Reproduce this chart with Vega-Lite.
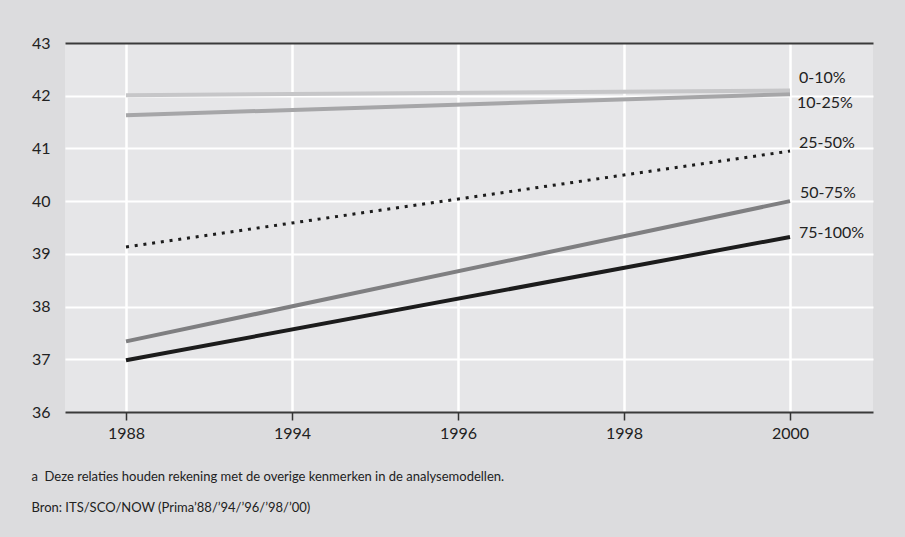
{
  "$schema": "https://vega.github.io/schema/vega-lite/v6.json",
  "width": 808,
  "height": 369,
  "autosize": {"type": "none"},
  "padding": {"left": 65, "top": 43, "right": 32, "bottom": 125},
  "background": "#dcdcde",
  "config": {
    "view": {"fill": "#e6e6e8", "stroke": null},
    "font": "Lato",
    "text": {"font": "Lato"}
  },
  "title": {
    "text": ["a\u00a0\u00a0Deze relaties houden rekening met de overige kenmerken in de analysemodellen.", "Bron: ITS/SCO/NOW (Prima’88/’94/’96/’98/’00)"],
    "orient": "bottom",
    "anchor": "start",
    "font": "Lato",
    "fontSize": 13,
    "fontWeight": "normal",
    "color": "#222222",
    "lineHeight": 31,
    "offset": 30
  },
  "data": {
    "values": [
      {"group": "0-10%", "year": "1988", "value": 42.01},
      {"group": "0-10%", "year": "2000", "value": 42.1},
      {"group": "10-25%", "year": "1988", "value": 41.63},
      {"group": "10-25%", "year": "2000", "value": 42.03},
      {"group": "25-50%", "year": "1988", "value": 39.13},
      {"group": "25-50%", "year": "2000", "value": 40.95},
      {"group": "50-75%", "year": "1988", "value": 37.34},
      {"group": "50-75%", "year": "2000", "value": 40.0},
      {"group": "75-100%", "year": "1988", "value": 36.98},
      {"group": "75-100%", "year": "2000", "value": 39.32}
    ]
  },
  "encoding": {
    "x": {
      "field": "year",
      "type": "ordinal",
      "scale": {"type": "point", "domain": ["1988", "1994", "1996", "1998", "2000"], "padding": 0.4337, "align": 0.4236},
      "axis": {
        "title": null,
        "domain": false,
        "ticks": true,
        "tickColor": "#333333",
        "tickSize": 8,
        "tickWidth": 1.5,
        "grid": true,
        "gridColor": "#ffffff",
        "gridWidth": 2.5,
        "labelAngle": 0,
        "labelPadding": 5,
        "labelFontSize": 16,
        "labelColor": "#222222"
      }
    },
    "y": {
      "field": "value",
      "type": "quantitative",
      "scale": {"domain": [36, 43], "nice": false, "zero": false},
      "axis": {
        "title": null,
        "values": [36, 37, 38, 39, 40, 41, 42, 43],
        "domain": false,
        "ticks": false,
        "labelPadding": 15,
        "labelFontSize": 16,
        "labelColor": "#222222",
        "grid": true,
        "gridWidth": 2,
        "gridColor": {"condition": {"test": "datum.value == 43 || datum.value == 36", "value": "#3a3a3a"}, "value": "#ffffff"}
      }
    }
  },
  "layer": [
    {
      "transform": [{"filter": {"field": "group", "oneOf": ["0-10%", "10-25%", "50-75%", "75-100%"]}}],
      "mark": {"type": "line", "strokeWidth": 4, "strokeCap": "butt"},
      "encoding": {
        "detail": {"field": "group"},
        "color": {
          "field": "group",
          "type": "nominal",
          "scale": {"domain": ["0-10%", "10-25%", "50-75%", "75-100%"], "range": ["#c6c6c8", "#a6a6a8", "#7f7f81", "#1c1c1c"]},
          "legend": null
        }
      }
    },
    {
      "transform": [{"filter": {"field": "group", "equal": "25-50%"}}],
      "mark": {"type": "line", "strokeWidth": 3, "strokeDash": [3, 5.8], "strokeCap": "butt", "color": "#1c1c1c"},
      "encoding": {}
    },
    {
      "transform": [{"filter": {"and": [{"field": "group", "equal": "0-10%"}, {"field": "year", "equal": "2000"}]}}],
      "mark": {"type": "text", "align": "left", "baseline": "middle", "dx": 9, "dy": -12, "fontSize": 16, "color": "#222222"},
      "encoding": {"text": {"field": "group"}}
    },
    {
      "transform": [{"filter": {"and": [{"field": "group", "equal": "10-25%"}, {"field": "year", "equal": "2000"}]}}],
      "mark": {"type": "text", "align": "left", "baseline": "middle", "dx": 7, "dy": 9, "fontSize": 16, "color": "#222222"},
      "encoding": {"text": {"field": "group"}}
    },
    {
      "transform": [{"filter": {"and": [{"field": "group", "equal": "25-50%"}, {"field": "year", "equal": "2000"}]}}],
      "mark": {"type": "text", "align": "left", "baseline": "middle", "dx": 9, "dy": -8, "fontSize": 16, "color": "#222222"},
      "encoding": {"text": {"field": "group"}}
    },
    {
      "transform": [{"filter": {"and": [{"field": "group", "equal": "50-75%"}, {"field": "year", "equal": "2000"}]}}],
      "mark": {"type": "text", "align": "left", "baseline": "middle", "dx": 10, "dy": -8, "fontSize": 16, "color": "#222222"},
      "encoding": {"text": {"field": "group"}}
    },
    {
      "transform": [{"filter": {"and": [{"field": "group", "equal": "75-100%"}, {"field": "year", "equal": "2000"}]}}],
      "mark": {"type": "text", "align": "left", "baseline": "middle", "dx": 9, "dy": -4, "fontSize": 16, "color": "#222222"},
      "encoding": {"text": {"field": "group"}}
    }
  ]
}
